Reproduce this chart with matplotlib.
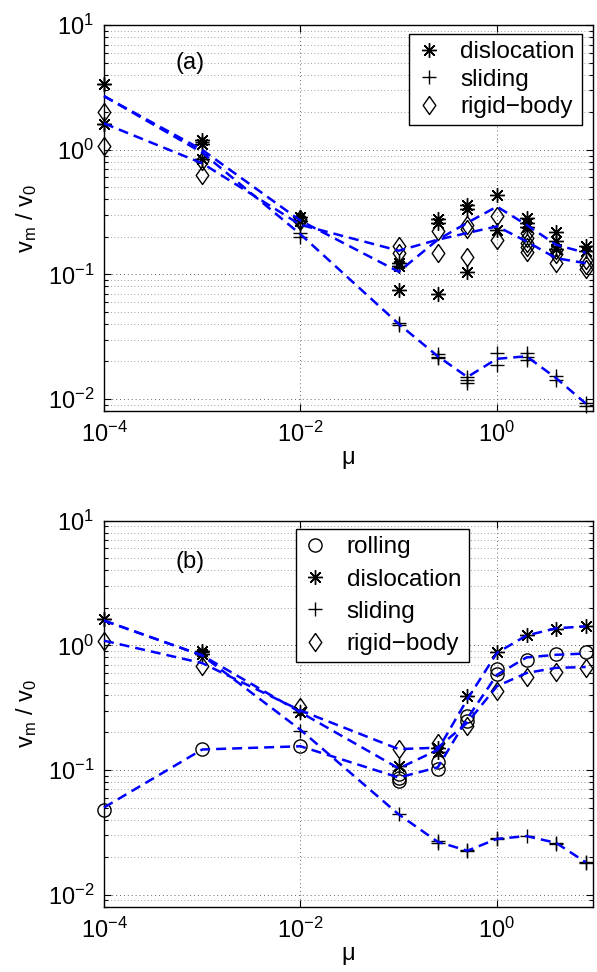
import matplotlib
matplotlib.use('Agg')
import matplotlib.pyplot as plt
from matplotlib.lines import Line2D
from matplotlib.ticker import LogLocator, NullLocator, NullFormatter, FixedLocator, LogFormatterSciNotation

plt.rcParams['font.family'] = ['Liberation Sans', 'DejaVu Sans']
plt.rcParams['mathtext.fontset'] = 'custom'
plt.rcParams['mathtext.rm'] = 'Liberation Sans'
plt.rcParams['mathtext.it'] = 'Liberation Sans:italic'
plt.rcParams['mathtext.default'] = 'regular'

# ---------------- data ----------------
mu = [1e-4, 1e-3, 1e-2, 0.1, 0.25, 0.5, 1, 2, 4, 8]

# panel (a): individual markers per mu value
a_disl_pts = [[3.4, 1.6], [1.21, 1.12, 0.84], [0.29, 0.27], [0.124, 0.116, 0.075],
              [0.278, 0.26, 0.069], [0.363, 0.335, 0.105], [0.43, 0.229],
              [0.285, 0.26, 0.24], [0.218, 0.184, 0.16], [0.168, 0.155]]
a_slid_pts = [[3.4, 1.6], [1.15, 0.84], [0.216, 0.2], [0.041, 0.039],
              [0.023, 0.0218, 0.0213], [0.0151, 0.0142, 0.0134], [0.0232, 0.0187],
              [0.0232, 0.0219, 0.0205], [0.0152, 0.0143], [0.0092, 0.0087]]
a_rigid_pts = [[2.0, 1.07], [0.81, 0.63], [0.28, 0.267], [0.168, 0.149],
               [0.222, 0.149], [0.25, 0.23, 0.139], [0.296, 0.19],
               [0.216, 0.197, 0.18, 0.165, 0.15], [0.157, 0.145, 0.124], [0.131, 0.12, 0.11]]
# panel (a): mean curves
a_disl_line = [2.7, 1.0, 0.27, 0.105, 0.19, 0.26, 0.35, 0.25, 0.173, 0.149]
a_slid_line = [2.7, 0.95, 0.21, 0.04, 0.022, 0.015, 0.021, 0.022, 0.0147, 0.0092]
a_rigid_line = [1.63, 0.78, 0.25, 0.155, 0.19, 0.215, 0.243, 0.184, 0.135, 0.123]

# panel (b): individual markers per mu value
b_roll_pts = [[0.048], [0.147], [0.156], [0.092, 0.087, 0.082], [0.115, 0.101],
              [0.27, 0.245], [0.646, 0.588], [0.767], [0.853], [0.88]]
b_disl_pts = [[1.63], [0.906, 0.853], [0.29], [0.108], [0.15, 0.14],
              [0.394], [0.88], [1.21], [1.36], [1.42]]
b_slid_pts = [[1.63], [0.88], [0.206], [0.044], [0.0269, 0.026],
              [0.0226, 0.0222], [0.0286, 0.0281], [0.0295], [0.026, 0.0255], [0.0182, 0.0178]]
b_rigid_pts = [[1.09], [0.687], [0.318], [0.147], [0.166],
               [0.226], [0.432], [0.554], [0.607], [0.654]]
# panel (b): mean curves
b_roll_line = [0.05, 0.146, 0.155, 0.087, 0.105, 0.26, 0.58, 0.8, 0.84, 0.86]
b_disl_line = [1.58, 0.83, 0.29, 0.103, 0.145, 0.37, 0.87, 1.2, 1.37, 1.42]
b_slid_line = [1.58, 0.83, 0.21, 0.044, 0.0265, 0.0225, 0.028, 0.0295, 0.026, 0.0182]
b_rigid_line = [1.09, 0.72, 0.3, 0.147, 0.151, 0.24, 0.47, 0.6, 0.66, 0.67]

x_ticks = [1e-4, 1e-2, 1]
y_ticks = [1e-2, 1e-1, 1, 10]

# ---------------- style ----------------
STAR = (8, 2, 0)
DIAMOND = [(0, 1), (0.7, 0), (0, -1), (-0.7, 0), (0, 1)]
MS = {'star': 10.5, '+': 10, 'o': 9.5, 'd': 13}
MEW = 1.0
FS = 17

def flat(pts):
    xs, ys = [], []
    for x, vals in zip(mu, pts):
        for v in vals:
            xs.append(x)
            ys.append(v)
    return xs, ys

def marker_of(kind):
    return {'star': STAR, '+': '+', 'o': 'o', 'd': DIAMOND}[kind]

def mk(ax, pts, kind):
    xs, ys = flat(pts)
    ax.plot(xs, ys, linestyle='none', marker=marker_of(kind), ms=MS[kind], mew=MEW,
            mec='black', mfc='none', zorder=3, clip_on=False)

def ln(ax, vals):
    ax.plot(mu, vals, color=(0, 0, 1), lw=1.8, linestyle=(0, (4, 2.4)), zorder=4, clip_on=False)

def style_axes(ax):
    ax.set_xscale('log')
    ax.set_yscale('log')
    ax.set_xlim(1e-4, 9.5)
    ax.set_ylim(0.008, 10)
    ax.xaxis.set_major_locator(FixedLocator(x_ticks))
    ax.xaxis.set_minor_locator(NullLocator())
    ax.yaxis.set_major_locator(FixedLocator(y_ticks))
    ax.yaxis.set_minor_locator(LogLocator(base=10, subs=range(2, 10), numticks=20))
    ax.xaxis.set_major_formatter(LogFormatterSciNotation())
    ax.yaxis.set_major_formatter(LogFormatterSciNotation())
    ax.yaxis.set_minor_formatter(NullFormatter())
    ax.tick_params(which='both', direction='in', top=True, right=True, labelsize=FS, width=0.8)
    ax.tick_params(which='major', length=5)
    ax.tick_params(axis='x', which='major', pad=8)
    ax.tick_params(axis='y', which='major', pad=7)
    ax.tick_params(which='minor', length=3)
    ax.grid(True, which='major', axis='both', linestyle=(0, (1, 3)), color='0.4', lw=0.7)
    ax.grid(True, which='minor', axis='y', linestyle=(0, (1, 3)), color='0.5', lw=0.6)
    for s in ax.spines.values():
        s.set_linewidth(1.0)
    ax.set_xlabel('μ', fontsize=FS, labelpad=0)
    ax.set_ylabel('v$_m$ / v$_0$', fontsize=FS, labelpad=6)

def leg(ax, entries, anchor, spacing):
    handles = [Line2D([], [], linestyle='none', marker=marker_of(k), ms=MS[k], mew=MEW,
                      mec='black', mfc='none') for k, _ in entries]
    labels = [t for _, t in entries]
    lg = ax.legend(handles, labels, loc='upper left', bbox_to_anchor=anchor, fontsize=17.5,
                   frameon=True, fancybox=False, edgecolor='black', framealpha=1,
                   borderpad=0.3, labelspacing=spacing, handlelength=1.0, handletextpad=0.8,
                   borderaxespad=0)
    lg.get_frame().set_linewidth(1.0)
    lg.set_zorder(10)

fig = plt.figure(figsize=(5.97, 9.72), dpi=100)
ax_a = fig.add_axes([104 / 597, 1 - 411 / 972, 489 / 597, 385.7 / 972])
ax_b = fig.add_axes([104 / 597, 1 - 906.7 / 972, 489 / 597, 386 / 972])

# panel (a)
mk(ax_a, a_disl_pts, 'star')
mk(ax_a, a_slid_pts, '+')
mk(ax_a, a_rigid_pts, 'd')
ln(ax_a, a_disl_line)
ln(ax_a, a_slid_line)
ln(ax_a, a_rigid_line)
style_axes(ax_a)
ax_a.text(0.176, 0.902, '(a)', transform=ax_a.transAxes, fontsize=FS, ha='center', va='center')
leg(ax_a, [('star', 'dislocation'), ('+', 'sliding'), ('d', 'rigid\u2212body')], (0.624, 0.977), 0.22)

# panel (b)
mk(ax_b, b_roll_pts, 'o')
mk(ax_b, b_disl_pts, 'star')
mk(ax_b, b_slid_pts, '+')
mk(ax_b, b_rigid_pts, 'd')
ln(ax_b, b_roll_line)
ln(ax_b, b_disl_line)
ln(ax_b, b_slid_line)
ln(ax_b, b_rigid_line)
style_axes(ax_b)
ax_b.text(0.176, 0.894, '(b)', transform=ax_b.transAxes, fontsize=FS, ha='center', va='center')
leg(ax_b, [('o', 'rolling'), ('star', 'dislocation'), ('+', 'sliding'), ('d', 'rigid\u2212body')],
    (0.392, 0.978), 0.42)

fig.savefig('out.png', dpi=100)
